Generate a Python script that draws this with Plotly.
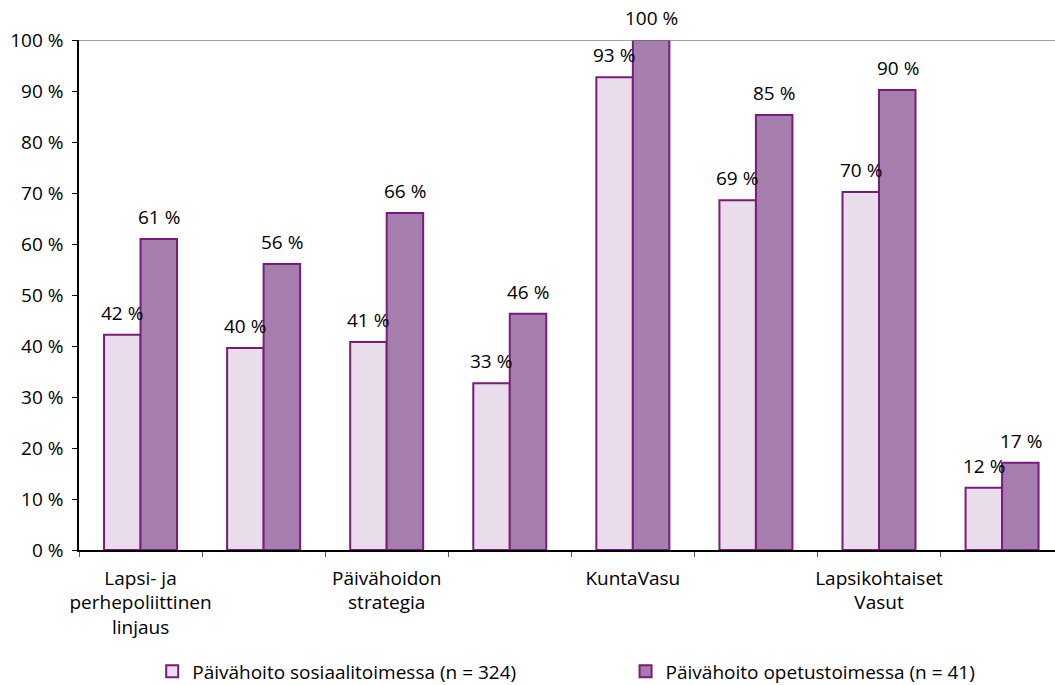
import plotly.graph_objects as go

# Category axis labels (only every other category carries a visible label)
tick_labels = [
    "Lapsi- ja<br>perhepoliittinen<br>linjaus", "",
    "Päivähoidon<br>strategia", "",
    "KuntaVasu", "",
    "Lapsikohtaiset<br>Vasut", "",
]

series_names = [
    "Päivähoito sosiaalitoimessa (n = 324)",
    "Päivähoito opetustoimessa (n = 41)",
]

# Shares (%) per category
sosiaalitoimi = [42.2, 39.6, 40.8, 32.7, 92.7, 68.6, 70.2, 12.2]
opetustoimi = [61.0, 56.1, 66.1, 46.3, 100.0, 85.3, 90.2, 17.1]

FONT = "Open Sans"
FS = 19
OUTLINE = "#7B1A7E"
fills = ["#E9DDEB", "#A67EAD"]
legend_ids = ["legend", "legend2"]

x = list(range(len(tick_labels)))

fig = go.Figure()
for name, vals, fill, lg in zip(series_names, [sosiaalitoimi, opetustoimi], fills, legend_ids):
    fig.add_trace(go.Bar(
        x=x, y=vals, name=name, legend=lg,
        marker=dict(color=fill, line=dict(color=OUTLINE, width=2)),
    ))

# Value labels above each bar
offsets = [-18.5, 18.5]
for vals, dx in zip([sosiaalitoimi, opetustoimi], offsets):
    for xi, v in zip(x, vals):
        fig.add_annotation(
            x=xi, y=v, xref="x", yref="y",
            text=f"{v:.0f} %", showarrow=False,
            xshift=dx, yshift=22, yanchor="middle",
            font=dict(family=FONT, size=FS, color="black"),
        )

# Line along the top of the plot area
fig.add_shape(type="line", xref="paper", yref="y", x0=0, x1=1, y0=100, y1=100,
              line=dict(color="#7F7F7F", width=1.5))

legend_style = dict(
    orientation="h", xref="paper", yref="container",
    y=0.02, xanchor="left", yanchor="middle",
    font=dict(family=FONT, size=FS, color="black"),
    bgcolor="rgba(0,0,0,0)",
)

fig.update_layout(
    width=1055, height=685,
    margin=dict(l=79, r=0, t=40, b=135),
    plot_bgcolor="white", paper_bgcolor="white",
    barmode="group", bargap=0.407, bargroupgap=0,
    font=dict(family=FONT, size=FS, color="black"),
    showlegend=True,
    legend=dict(x=0.075, **legend_style),
    legend2=dict(x=0.56, **legend_style),
)

fig.update_xaxes(
    range=[-0.5, 7.43],
    tickmode="array", tickvals=x, ticktext=tick_labels,
    ticks="", showgrid=False, zeroline=False,
    showline=True, linecolor="black", linewidth=1.5,
    ticklabelstandoff=10,
    minor=dict(tickmode="array", tickvals=[i - 0.5 for i in range(len(x) + 1)],
               ticks="outside", ticklen=5, tickcolor="#555555", showgrid=False),
)

fig.update_yaxes(
    range=[0, 100], dtick=10, ticksuffix=" %",
    ticks="outside", ticklen=5, tickcolor="black",
    showgrid=False, zeroline=False,
    showline=True, linecolor="black", linewidth=1.5,
    ticklabelstandoff=5,
)

fig.write_html("out.html")
